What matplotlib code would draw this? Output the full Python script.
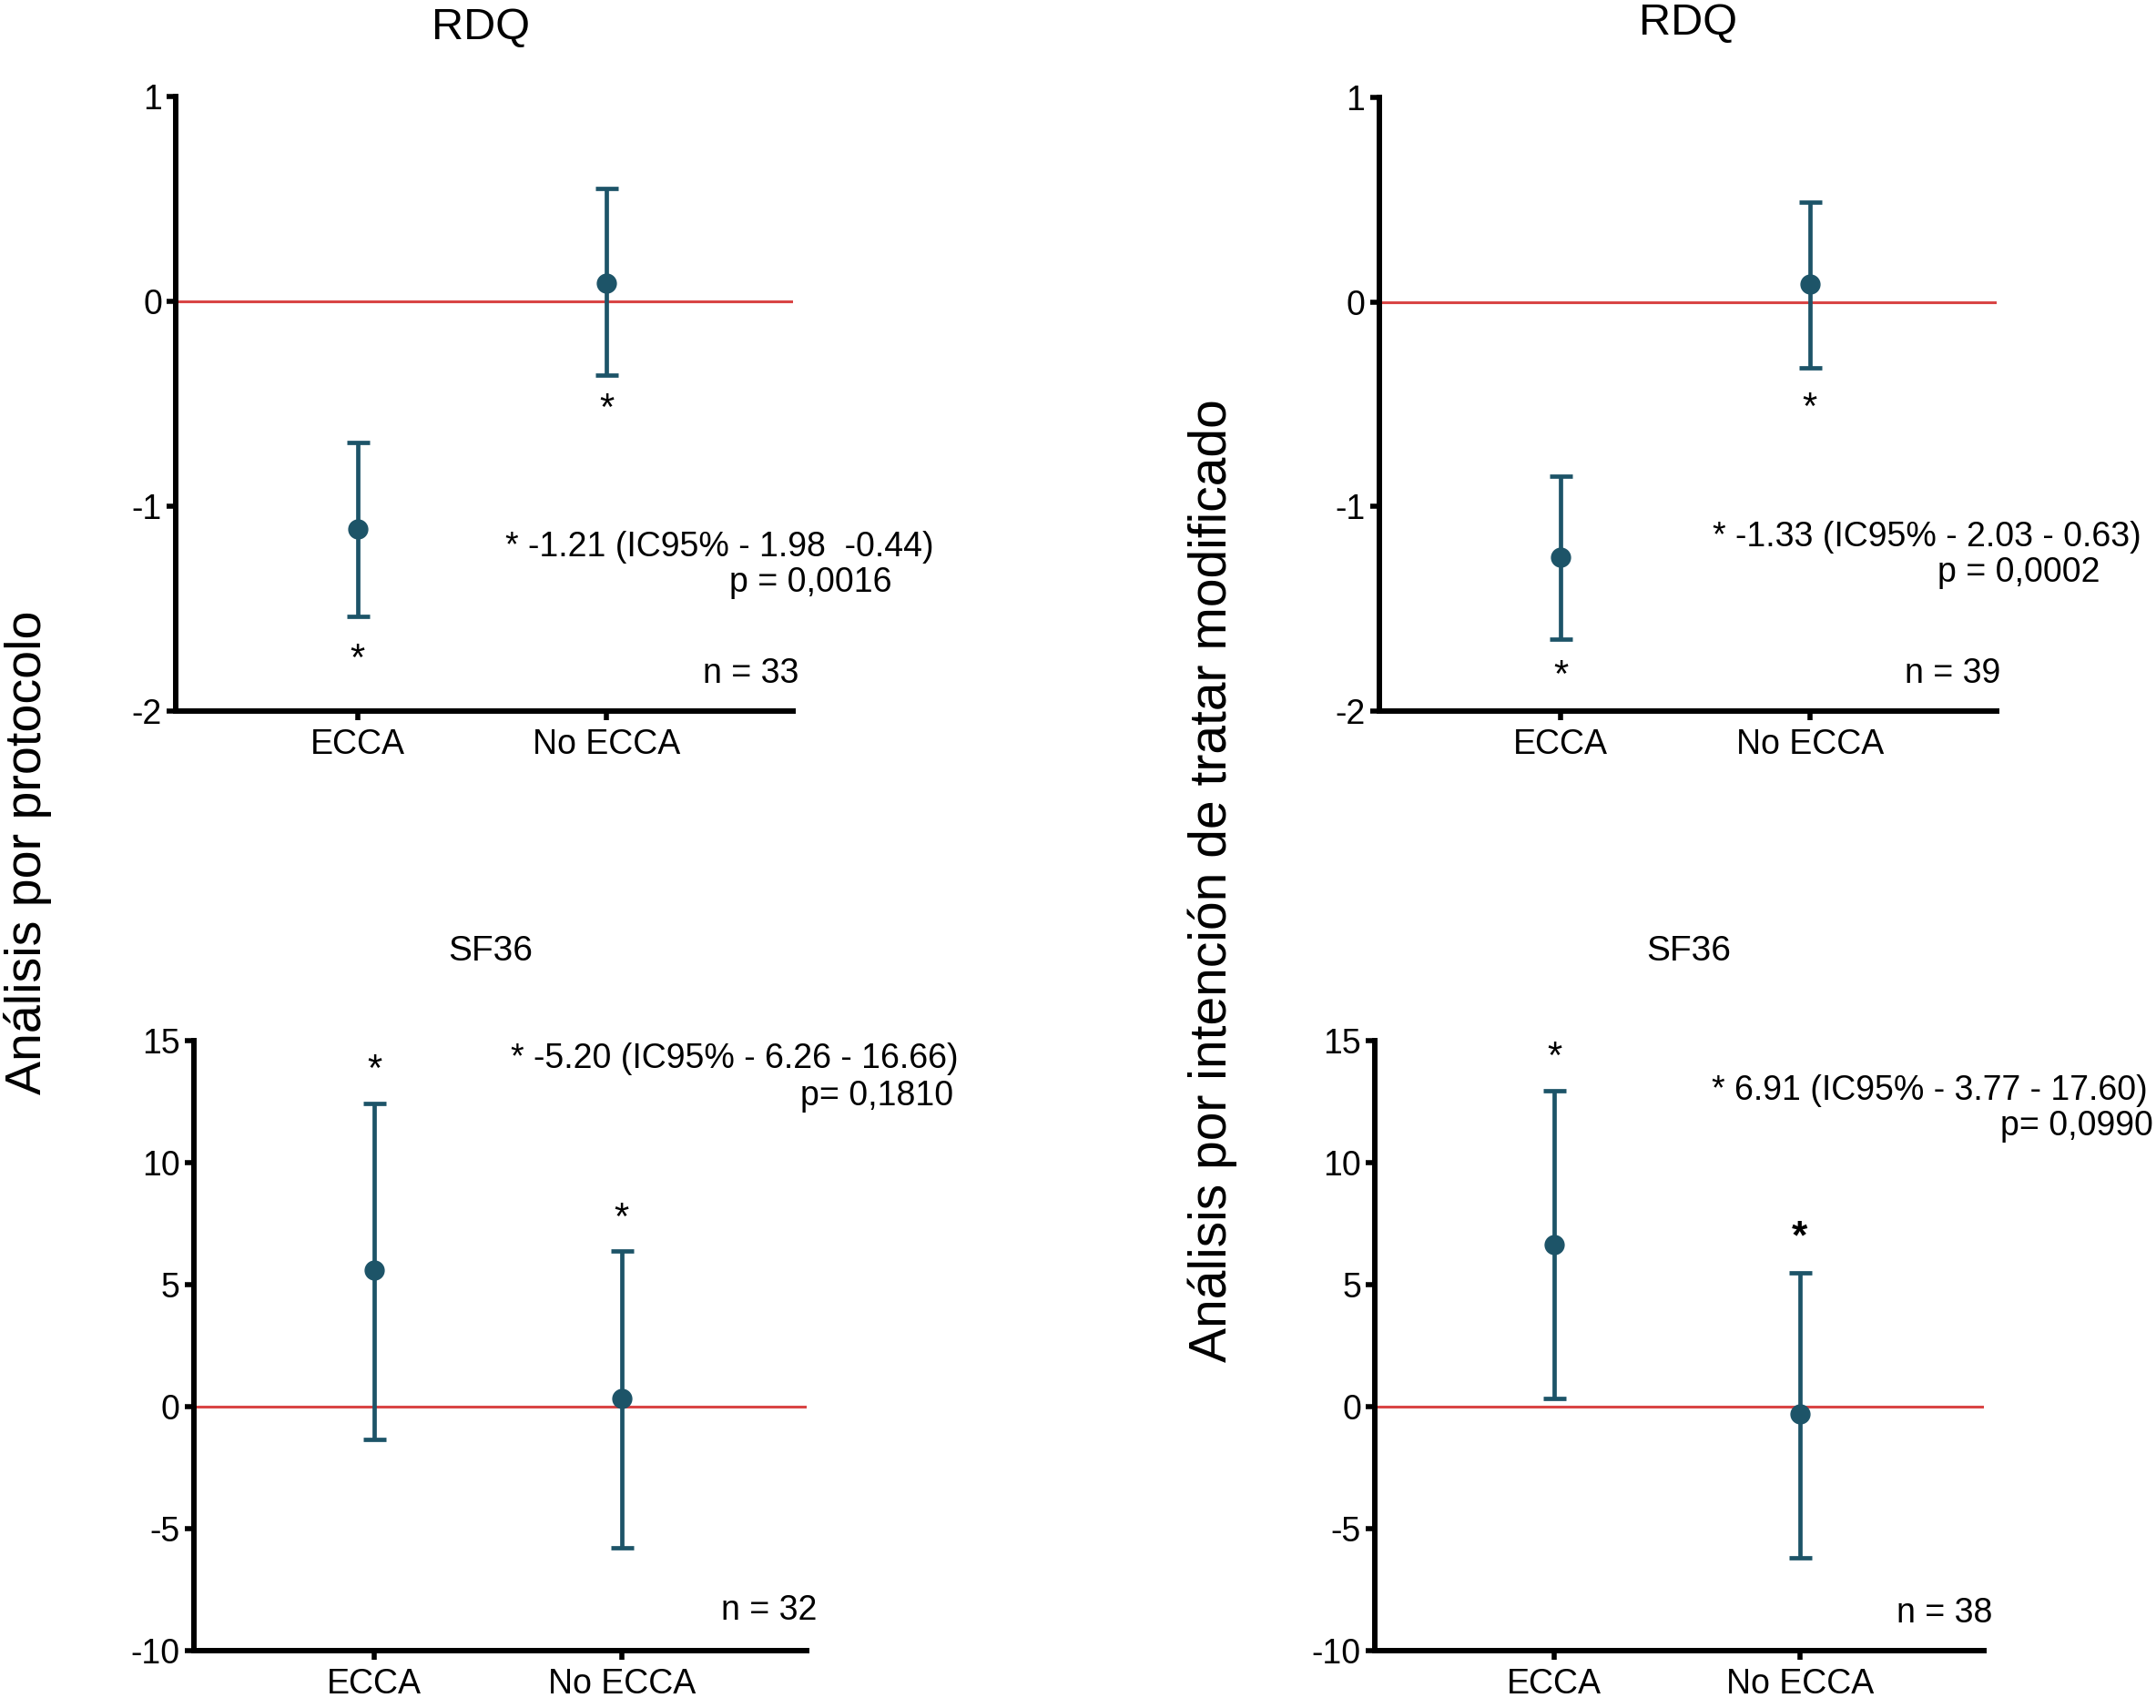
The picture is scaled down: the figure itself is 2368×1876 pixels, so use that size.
import matplotlib
matplotlib.use("Agg")
import matplotlib.pyplot as plt
from matplotlib import font_manager

# ── Données ───────────────────────────────────────────────────────────
groups = ["ECCA", "No ECCA"]

rdq_pp_mean = [-1.11, 0.09]
rdq_pp_low = [-1.54, -0.36]
rdq_pp_high = [-0.69, 0.55]
rdq_pp_star = [-1.75, -0.53]

rdq_itt_mean = [-1.25, 0.09]
rdq_itt_low = [-1.65, -0.32]
rdq_itt_high = [-0.85, 0.49]
rdq_itt_star = [-1.83, -0.52]

sf_pp_mean = [5.6, 0.35]
sf_pp_low = [-1.35, -5.8]
sf_pp_high = [12.45, 6.4]
sf_pp_star = [13.8, 7.7]

sf_itt_mean = [6.65, -0.3]
sf_itt_low = [0.35, -6.2]
sf_itt_high = [12.95, 5.5]
sf_itt_star = [14.3, 6.9]

rdq_ticks = [-2, -1, 0, 1]
sf_ticks = [-10, -5, 0, 5, 10, 15]

notes = {
    "rdq_pp": ("* -1.21 (IC95% - 1.98  -0.44)", "p = 0,0016", "n = 33"),
    "rdq_itt": ("* -1.33 (IC95% - 2.03 - 0.63)", "p = 0,0002", "n = 39"),
    "sf_pp": ("* -5.20 (IC95% - 6.26 - 16.66)", "p= 0,1810", "n = 32"),
    "sf_itt": ("* 6.91 (IC95% - 3.77 - 17.60)", "p= 0,0990", "n = 38"),
}

# ── Style ─────────────────────────────────────────────────────────────
installed = {f.name for f in font_manager.fontManager.ttflist}
narrow = "Liberation Sans Narrow" if "Liberation Sans Narrow" in installed else "Liberation Sans"
plt.rcParams["font.family"] = [narrow, "DejaVu Sans"]

TEAL = "#1d5468"
RED = "#d94545"
W, H = 1568, 1242  # coordonnées de travail (image réduite)
FS = 27


def rect(left, right, top, bottom):
    return [left / W, 1 - bottom / H, (right - left) / W, (bottom - top) / H]


fig = plt.figure(figsize=(23.68, 18.76), dpi=100)


def panel(box, mean, low, high, star, ylim, ticks, title, title_pos, title_size,
          note, note_pos, double_star=False):
    ax = fig.add_axes(box)
    x = [1, 2]
    ax.axhline(0, color=RED, lw=2.2, zorder=1)
    yerr = [[m - l for m, l in zip(mean, low)], [h - m for m, h in zip(mean, high)]]
    ax.errorbar(x, mean, yerr=yerr, fmt="o", color=TEAL, ms=15, lw=3.4,
                capsize=9, capthick=3.4, zorder=3)
    for i, (xi, yi) in enumerate(zip(x, star)):
        bold = double_star and i == 1
        ax.text(xi, yi, "*", ha="center", va="center", fontsize=32 if bold else 30,
                fontweight="bold" if bold else "normal", color="black")
    ax.set_xlim(0.27, 2.75)
    ax.set_ylim(*ylim)
    ax.set_yticks(ticks)
    ax.set_yticklabels([str(t) for t in ticks])
    ax.set_xticks(x)
    ax.set_xticklabels(groups)
    for side in ("top", "right"):
        ax.spines[side].set_visible(False)
    for side in ("left", "bottom"):
        ax.spines[side].set_linewidth(4.3)
    ax.tick_params(axis="both", length=7, width=4, labelsize=FS, pad=4)
    ax.tick_params(axis="x", pad=7)
    ax.text(title_pos[0], title_pos[1], title, transform=ax.transAxes,
            ha="center", va="center", fontsize=title_size)
    (l1x, l1y), (l2x, l2y), (nx, ny) = note_pos
    ax.text(l1x, l1y, note[0], transform=ax.transAxes, ha="right", va="center", fontsize=FS)
    ax.text(l2x, l2y, note[1], transform=ax.transAxes, ha="right", va="center", fontsize=FS)
    ax.text(nx, ny, note[2], transform=ax.transAxes, ha="right", va="center", fontsize=FS)
    return ax


panel(rect(128, 577, 70, 517), rdq_pp_mean, rdq_pp_low, rdq_pp_high, rdq_pp_star,
      (-2, 1), rdq_ticks, "RDQ", (0.494, 1.112), 35, notes["rdq_pp"],
      [(1.227, 0.266), (1.160, 0.208), (1.009, 0.060)])

panel(rect(1003, 1452, 71, 517), rdq_itt_mean, rdq_itt_low, rdq_itt_high, rdq_itt_star,
      (-2, 1), rdq_ticks, "RDQ", (0.501, 1.121), 35, notes["rdq_itt"],
      [(1.234, 0.283), (1.167, 0.225), (1.007, 0.061)])

panel(rect(141, 587, 757, 1200), sf_pp_mean, sf_pp_low, sf_pp_high, sf_pp_star,
      (-10, 15), sf_ticks, "SF36", (0.484, 1.147), 28, notes["sf_pp"],
      [(1.247, 0.971), (1.238, 0.910), (1.016, 0.065)])

panel(rect(1000, 1443, 757, 1200), sf_itt_mean, sf_itt_low, sf_itt_high, sf_itt_star,
      (-10, 15), sf_ticks, "SF36", (0.515, 1.147), 28, notes["sf_itt"],
      [(1.269, 0.919), (1.278, 0.860), (1.014, 0.061)], double_star=True)

fig.text(20 / W, 1 - 620 / H, "Análisis por protocolo", rotation=90,
         ha="center", va="center", fontsize=40, family=["Liberation Sans", "DejaVu Sans"])
fig.text(882 / W, 1 - 640 / H, "Análisis por intención de tratar modificado", rotation=90,
         ha="center", va="center", fontsize=41, family=["Liberation Sans", "DejaVu Sans"])

fig.savefig("out.png", dpi=100)
